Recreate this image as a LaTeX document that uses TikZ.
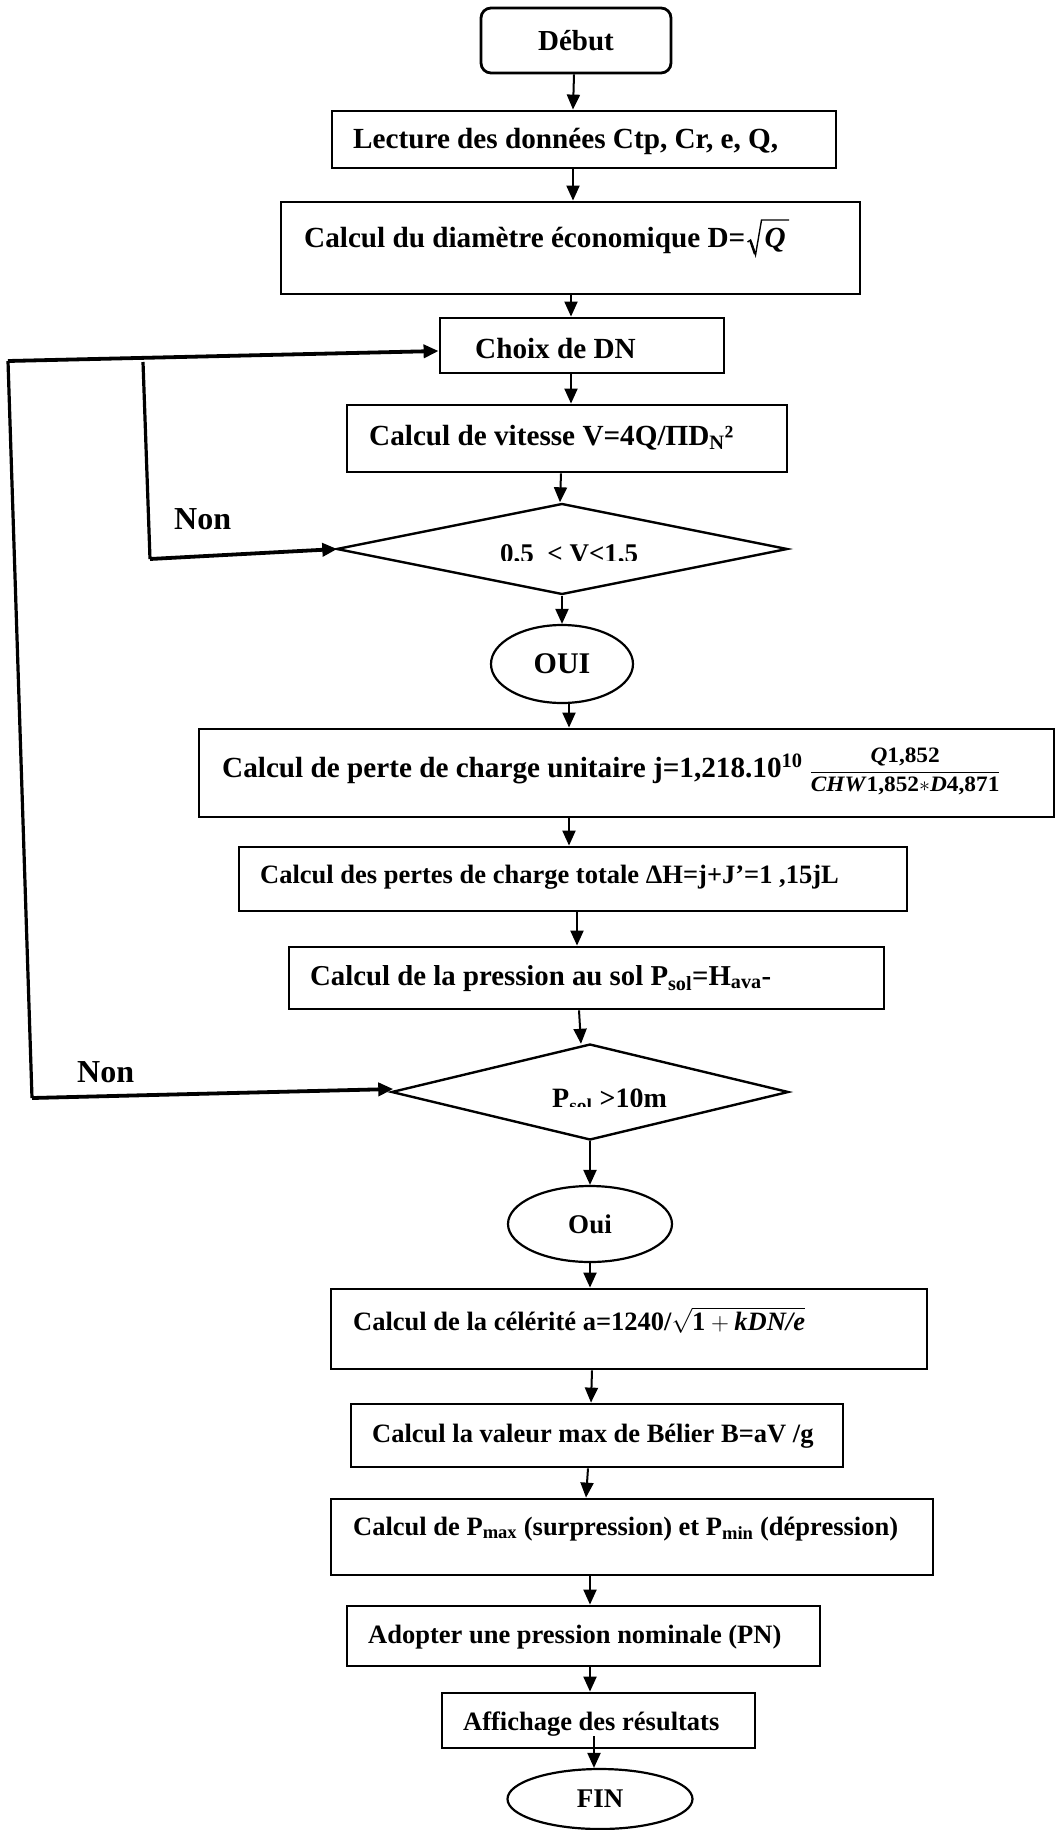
\documentclass[tikz,border=0pt]{standalone}
\usepackage{fontspec}
\setmainfont{Liberation Serif}
\usetikzlibrary{shapes.geometric,arrows.meta,calc}
\begin{document}
\begin{tikzpicture}[x=1pt,y=-1pt,
  every node/.style={font=\fontsize{27}{31}\selectfont\bfseries},
  box/.style={draw, line width=2.8pt, inner sep=0pt, rectangle},
  oval/.style={draw, line width=2.2pt, inner sep=0pt, ellipse},
  dia/.style={draw, line width=2.4pt, inner sep=0pt, diamond},
  txtA/.style={anchor=base west, inner sep=0pt, font=\fontsize{29.2}{33}\selectfont\bfseries},
  txtB/.style={anchor=base west, inner sep=0pt, font=\fontsize{26.5}{30}\selectfont\bfseries},
  bigtxt/.style={anchor=base west, inner sep=0pt, font=\fontsize{32}{35}\selectfont\bfseries},
  arr/.style={line width=2pt, -{Triangle[length=15pt,width=13pt]}},
  loopV/.style={line width=3.2pt},
  loopA/.style={line width=3.8pt, -{Triangle[length=15pt,width=13pt]}},
  radical/.style={line width=1.4pt, line join=miter},
]
\useasboundingbox (0,0) rectangle (1056,1830);

% ---- shapes ----
\node[box, rounded corners=10pt, minimum width=190pt, minimum height=65pt, font=\fontsize{29}{33}\selectfont\bfseries] (debut) at (576,40.5) {Début};
\node[box, minimum width=504pt, minimum height=57pt] (lect) at (584,139.5) {};
\node[box, minimum width=579pt, minimum height=92pt] (diam) at (570.5,248) {};
\node[box, minimum width=284pt, minimum height=55pt] (choix) at (582,345.5) {};
\node[box, minimum width=440pt, minimum height=67pt] (vit) at (567,438.5) {};
\node[dia, minimum width=451pt, minimum height=91pt] (d1) at (562,549) {};
\node[oval, minimum width=142pt, minimum height=78pt, font=\fontsize{30}{33}\selectfont\bfseries] (oui1) at (562,664) {OUI};
\node[box, minimum width=855pt, minimum height=88pt] (perte) at (626.5,773) {};
\node[box, minimum width=668pt, minimum height=64pt] (pertes) at (573,879) {};
\node[box, minimum width=595pt, minimum height=62pt] (press) at (586.5,978) {};
\node[dia, minimum width=397pt, minimum height=96pt] (d2) at (590,1092) {};
\node[oval, minimum width=164pt, minimum height=76pt] (oui2) at (590,1224) {Oui};
\node[box, minimum width=596pt, minimum height=80pt] (cel) at (629,1329) {};
\node[box, minimum width=492pt, minimum height=63pt] (bel) at (597,1435.5) {};
\node[box, minimum width=602pt, minimum height=76pt] (pmm) at (632,1537) {};
\node[box, minimum width=473pt, minimum height=60pt] (adop) at (583.5,1636) {};
\node[box, minimum width=313pt, minimum height=55pt] (aff) at (598.5,1720.5) {};
\node[oval, minimum width=185pt, minimum height=60pt] (fin) at (600,1799) {FIN};

% ---- texts ----
\node[txtA] (tlect) at (353,149) {Lecture des données Ctp, Cr, e, Q,};
\node[txtA] (tdiam) at (304,247) {Calcul du diamètre économique D=};
\node[txtA, font=\fontsize{29.2}{33}\selectfont\bfseries\itshape] (tq) at ([xshift=19pt]tdiam.base east) {Q};
\draw[radical] ($(tq.base west)+(-17,-5)$) -- ($(tq.base west)+(-14,-7)$) -- ($(tq.base west)+(-9,8)$) -- ($(tq.base west)+(-3,-27)$) -- ($(tq.base east)+(3,-27)$);
\draw[line width=2.4pt] ($(tq.base west)+(-14,-6)$) -- ($(tq.base west)+(-9.5,7)$);
\node[txtA] (tchoix) at (475,358) {Choix de DN};
\node[txtA] (tvit) at (369,445) {Calcul de vitesse V=4Q/ΠD\textsubscript{N}²};
\begin{scope}
  \clip (480,530) rectangle (700,560);
  \node[txtB, font=\fontsize{27}{30}\selectfont\bfseries] (td1) at (500,562) {0,5 \ < V<1,5};
\end{scope}
\node[bigtxt] (non1) at (174,529) {Non};
\node[txtA] (tperte) at (222,777) {Calcul de perte de charge unitaire j=1,218.10\textsuperscript{10}\hspace{7pt}{\fontsize{22}{25}\selectfont\scalebox{1.06}[1]{$\displaystyle\frac{\mbox{\itshape Q\/\upshape 1,852}}{\mbox{\itshape CHW\/\upshape 1,852$\ast$\itshape D\/\upshape 4,871}}$}}};
\node[txtB] (tpertes) at (260,883) {Calcul des pertes de charge totale ΔH=j+J’=1 ,15jL};
\node[txtA, font=\fontsize{28.8}{32}\selectfont\bfseries] (tpress) at (310,985) {Calcul de la pression au sol P\textsubscript{sol}=H\textsubscript{ava}-};
\begin{scope}
  \clip (530,1075) rectangle (700,1106);
  \node[txtB, font=\fontsize{28}{31}\selectfont\bfseries] (td2) at (552,1107) {P\textsubscript{sol} >10m};
\end{scope}
\node[bigtxt] (non2) at (77,1082) {Non};
\node[txtB] (tcel) at (353,1330) {Calcul de la célérité a=1240/$\sqrt{\mbox{1}+\mbox{\itshape kDN/e\/}}$};
\node[txtB] (tbel) at (372,1442) {Calcul la valeur max de Bélier B=aV /g};
\node[txtB] (tpmm) at (353,1535) {Calcul de P\textsubscript{max} (surpression) et P\textsubscript{min} (dépression)};
\node[txtB] (tadop) at (368,1643) {Adopter une pression nominale (PN)};
\node[txtB] (taff) at (463,1730) {Affichage des résultats};

% ---- connectors ----
\draw[arr] ([xshift=-2pt]debut.south) -- ([xshift=-11pt]lect.north);
\draw[arr] ([xshift=-11pt]lect.south) -- ([xshift=2.5pt]diam.north);
\draw[arr] ([xshift=0.5pt]diam.south) -- ([xshift=-11pt]choix.north);
\draw[arr] ([xshift=-11pt]choix.south) -- ([xshift=4pt]vit.north);
\draw[arr] ([xshift=-6pt]vit.south) -- ([xshift=-2pt]d1.north);
\draw[arr] (d1.south) -- (oui1.north);
\draw[arr] ([xshift=7pt]oui1.south) -- ([xshift=-57.5pt]perte.north);
\draw[arr] ([xshift=-57.5pt]perte.south) -- ([xshift=-4pt]pertes.north);
\draw[arr] ([xshift=4pt]pertes.south) -- ([xshift=-9.5pt]press.north);
\draw[arr] ([xshift=-7.5pt]press.south) -- ([xshift=-9pt,yshift=-1pt]d2.north);
\draw[arr] (d2.south) -- (oui2.north);
\draw[arr] (oui2.south) -- ([xshift=-39pt]cel.north);
\draw[arr] ([xshift=-37pt]cel.south) -- ([xshift=-6pt]bel.north);
\draw[arr] ([xshift=-9pt]bel.south) -- ([xshift=-46pt]pmm.north);
\draw[arr] ([xshift=-42pt]pmm.south) -- ([xshift=6.5pt]adop.north);
\draw[arr] ([xshift=6.5pt]adop.south) -- ([xshift=-8.5pt]aff.north);
\draw[arr] ([xshift=-4.5pt,yshift=13pt]aff.south) -- ([xshift=-6pt]fin.north);

% ---- loops ----
\coordinate (cT) at (8,361);
\coordinate (cB) at (32,1098);
\coordinate (cI1) at (143,362);
\coordinate (cI2) at (150,559);
\draw[loopV] (cT) -- (cB);
\draw[loopA] (cT) -- ([yshift=-5.5pt]choix.west);
\draw[loopA] (cB) -- ([xshift=3pt,yshift=3pt]d2.west);
\draw[loopV] (cI1) -- (cI2);
\draw[loopA] (cI2) -- ([xshift=2pt]d1.west);
\end{tikzpicture}
\end{document}
